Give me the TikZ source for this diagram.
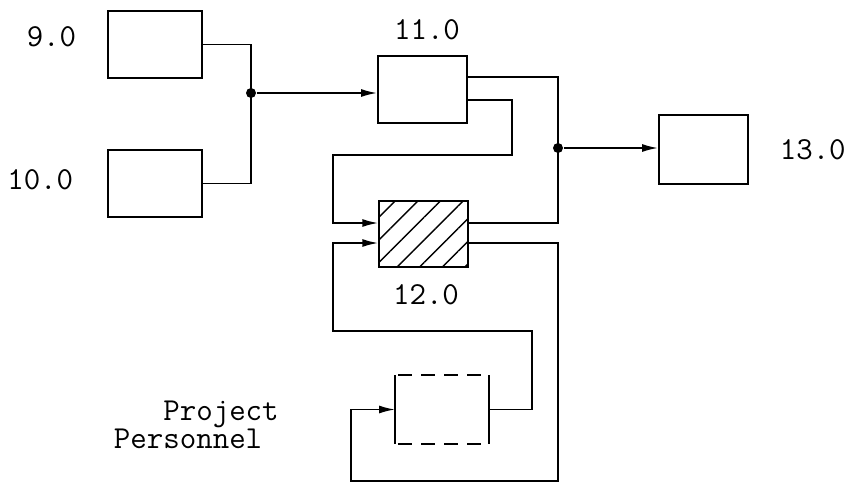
\documentclass[tikz,border=0pt]{standalone}
\usetikzlibrary{positioning,arrows.meta,patterns.meta}

\begin{document}
\begin{tikzpicture}[
    x=1pt,y=-1pt,line width=1.8pt,
    >={Latex[length=16pt,width=8pt]},
    font=\ttfamily\fontsize{32}{28}\selectfont,
    block/.style={rectangle,draw,fill=white,inner sep=0pt,minimum width=89pt,minimum height=67pt},
    wideblock/.style={block,minimum width=94pt},
    hatched/.style={rectangle,draw,inner sep=0pt,minimum width=89pt,minimum height=66pt,
      pattern={Lines[angle=45,distance=16pt,line width=1.4pt]}},
    ghost/.style={rectangle,inner sep=0pt,minimum width=92pt,minimum height=67pt},
    gap/.style={dash pattern=on 14pt off 9pt,dash phase=-3pt},
    tag/.style={inner sep=0pt},
    dot/.style={circle,fill,inner sep=0pt,minimum size=10pt}
    ]

    \useasboundingbox (0,0) rectangle (847,483);

    \node (b9) [wideblock] at (155,44.5) {};
    \node (b10) [wideblock] at (155,183.5) {};
    \node (b11) [block] at (422.5,89.5) {};
    \node (b12) [hatched] at (423.5,234) {};
    \node (b13) [block,minimum height=69pt] at (703.5,149.5) {};
    \node (pp) [ghost] at (442,409.5) {};

    % the personnel box: solid sides, broken top and bottom
    \draw (pp.north west) -- (pp.south west);
    \draw (pp.north east) -- (pp.south east);
    \draw[gap] (pp.north west) -- (pp.north east);
    \draw[gap] (pp.south west) -- (pp.south east);

    \node (j1) [dot] at (251,93) {};
    \node (j2) [dot] at (558,148) {};

    \node (l9) [tag,left=30pt of b9,yshift=7.5pt] {9.0};
    \node (l10) [tag,left=33pt of b10,yshift=3.5pt] {10.0};
    \node (l11) [tag,above=14pt of b11,xshift=4.5pt] {11.0};
    \node (l12) [tag,below=16pt of b12,xshift=2.5pt] {12.0};
    \node (l13) [tag,right=30pt of b13] {13.0};
    \node (staff) [tag,align=left,anchor=north west] at (113,400) {\phantom{Per}Project\\Personnel};

    % inputs to 11.0
    \draw (b9.east) -| (j1.center) |- (b10.east);
    \draw[->] (j1) -- (j1 -| b11.west);

    % 11.0 and 12.0 to 13.0
    \draw ([yshift=12.5pt]b11.east) -| (j2.center) |- ([yshift=11pt]b12.east);
    \draw[->] (j2) -- (j2 -| b13.west);

    % 11.0 into 12.0
    \draw[->] ([yshift=-10.5pt]b11.east) -| (512,155) -| ([xshift=-45pt,yshift=11pt]b12.west)
      -- ([yshift=11pt]b12.west);

    % loop through personnel
    \draw[->] ([yshift=-9pt]b12.east) -| (558,481) -| (351,409.5) -- (pp.west);
    \draw[->] (pp.east) -| (532,331) -| ([xshift=-45pt,yshift=-9pt]b12.west)
      -- ([yshift=-9pt]b12.west);

\end{tikzpicture}
\end{document}
